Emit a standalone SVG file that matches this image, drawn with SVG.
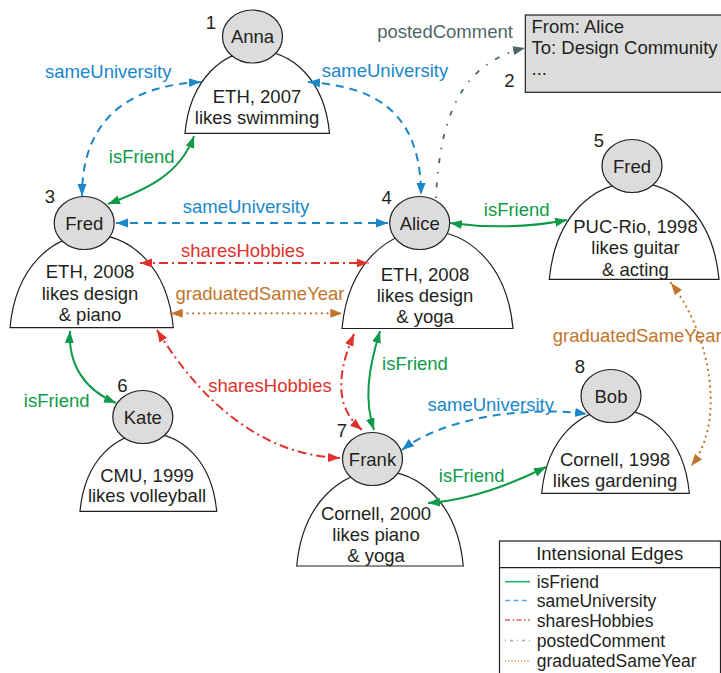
<svg xmlns="http://www.w3.org/2000/svg" width="721" height="673" viewBox="0 0 721 673">
  <style>
    text { font-family: "Liberation Sans", Arial, sans-serif; font-size: 18.5px; fill: #231f20; }
    .c { text-anchor: middle; }
    .head { fill: #dcdcdc; stroke: #231f20; stroke-width: 1.2; }
    .dome { fill: #ffffff; stroke: #231f20; stroke-width: 1.2; }
    .e { fill: none; stroke-width: 2; }
    .friend { stroke: #0e9a48; }
    .uni { stroke: #1a87c9; stroke-dasharray: 8 6; }
    .hob { stroke: #e1312b; stroke-dasharray: 9 4 2 4; }
    .grad { stroke: #c1742a; stroke-dasharray: 0.1 5.5; stroke-linecap: round; stroke-width: 2.2; }
    .post { stroke: #4e6766; stroke-dasharray: 1.5 9 5 9; stroke-width: 1.8; }
    .tf { fill: #0e9a48; }
    .tu { fill: #1a87c9; }
    .th { fill: #e1312b; }
    .tg { fill: #c1742a; }
    .tp { fill: #4e6766; }
    .lg { fill: none; stroke-width: 1.6; }
    .lt { font-size: 17.5px; }
  </style>
  <defs>
    <marker id="aF" viewBox="0 0 12 10" refX="12" refY="5" markerWidth="12" markerHeight="10" markerUnits="userSpaceOnUse" orient="auto-start-reverse"><path d="M0,0.5 L12,5 L0,9.5 Z" fill="#0e9a48"/></marker>
    <marker id="aU" viewBox="0 0 12 10" refX="12" refY="5" markerWidth="12" markerHeight="10" markerUnits="userSpaceOnUse" orient="auto-start-reverse"><path d="M0,0.5 L12,5 L0,9.5 Z" fill="#1a87c9"/></marker>
    <marker id="aH" viewBox="0 0 12 10" refX="12" refY="5" markerWidth="12" markerHeight="10" markerUnits="userSpaceOnUse" orient="auto-start-reverse"><path d="M0,0.5 L12,5 L0,9.5 Z" fill="#e1312b"/></marker>
    <marker id="aG" viewBox="0 0 12 10" refX="12" refY="5" markerWidth="12" markerHeight="10" markerUnits="userSpaceOnUse" orient="auto-start-reverse"><path d="M0,0.5 L12,5 L0,9.5 Z" fill="#c1742a"/></marker>
    <marker id="aP" viewBox="0 0 12 10" refX="12" refY="5" markerWidth="12" markerHeight="10" markerUnits="userSpaceOnUse" orient="auto-start-reverse"><path d="M0,0.5 L12,5 L0,9.5 Z" fill="#4e6766"/></marker>
  </defs>

  <!-- people: dome with profile text, grey head with name -->
  <g id="anna">
    <path class="dome" d="M185,133.3 C195.1,23.5 319.4,23.5 329.5,133.3 Z"/>
    <ellipse class="head" cx="252.5" cy="36.5" rx="30" ry="26.5"/>
    <text class="c" x="252.5" y="43">Anna</text>
    <text x="211" y="28.5" class="c">1</text>
    <text class="c" x="257" y="103">ETH, 2007</text>
    <text class="c" x="257" y="124">likes swimming</text>
  </g>
  <g id="fred3">
    <path class="dome" d="M10,327.7 C21.4,203.6 161.9,203.6 173.3,327.7 Z"/>
    <ellipse class="head" cx="84.2" cy="223" rx="30" ry="26.5"/>
    <text class="c" x="84.2" y="229.5">Fred</text>
    <text x="50" y="203" class="c">3</text>
    <text class="c" x="90" y="278">ETH, 2008</text>
    <text class="c" x="90" y="299.5">likes design</text>
    <text class="c" x="90" y="320.5">&amp; piano</text>
  </g>
  <g id="alice">
    <path class="dome" d="M342,328.5 C354,198.5 501,198.5 513,328.5 Z"/>
    <ellipse class="head" cx="419.7" cy="223" rx="30" ry="26.5"/>
    <text class="c" x="419.7" y="229.5">Alice</text>
    <text x="386.7" y="204" class="c">4</text>
    <text class="c" x="425" y="280.5">ETH, 2008</text>
    <text class="c" x="425" y="302">likes design</text>
    <text class="c" x="425" y="323">&amp; yoga</text>
  </g>
  <g id="fred5">
    <path class="dome" d="M549.3,279.3 C561.2,150.3 707.1,150.3 719,279.3 Z"/>
    <ellipse class="head" cx="632" cy="166" rx="30" ry="26.5"/>
    <text class="c" x="632" y="172.5">Fred</text>
    <text x="599" y="146.5" class="c">5</text>
    <text class="c" x="635.5" y="232.5">PUC-Rio, 1998</text>
    <text class="c" x="635.5" y="254">likes guitar</text>
    <text class="c" x="635.5" y="275.5">&amp; acting</text>
  </g>
  <g id="kate">
    <path class="dome" d="M80,511.3 C89.6,407.4 207.1,407.4 216.7,511.3 Z"/>
    <ellipse class="head" cx="142.8" cy="417" rx="30" ry="26.5"/>
    <text class="c" x="142.8" y="423.5">Kate</text>
    <text x="122.3" y="391.5" class="c">6</text>
    <text class="c" x="147" y="481.5">CMU, 1999</text>
    <text class="c" x="147" y="502">likes volleyball</text>
  </g>
  <g id="frank">
    <path class="dome" d="M296.7,566 C308.4,439.4 451.6,439.4 463.3,566 Z"/>
    <ellipse class="head" cx="372.5" cy="459" rx="30" ry="26.5"/>
    <text class="c" x="372.5" y="465.5">Frank</text>
    <text x="342" y="436.5" class="c">7</text>
    <text class="c" x="376" y="520">Cornell, 2000</text>
    <text class="c" x="376" y="541">likes piano</text>
    <text class="c" x="376" y="562">&amp; yoga</text>
  </g>
  <g id="bob">
    <path class="dome" d="M541.7,493.3 C552,381.1 679,381.1 689.3,493.3 Z"/>
    <ellipse class="head" cx="611" cy="396" rx="30" ry="26.5"/>
    <text class="c" x="611" y="402.5">Bob</text>
    <text x="580" y="373" class="c">8</text>
    <text class="c" x="615" y="466">Cornell, 1998</text>
    <text class="c" x="615" y="486.5">likes gardening</text>
  </g>

  <!-- posted comment -->
  <g id="comment">
    <rect x="525.3" y="15" width="205" height="77.3" fill="#dcdcdc" stroke="#231f20" stroke-width="1.2"/>
    <text x="531.5" y="33">From: Alice</text>
    <text x="531.5" y="54">To: Design Community</text>
    <text x="531.5" y="75">...</text>
    <text x="509.3" y="86.5" class="c">2</text>
  </g>

  <!-- edges -->
  <g id="connectors">
    <path class="e uni" d="M201,82 C140,85 82,110 82,196" marker-start="url(#aU)" marker-end="url(#aU)"/>
    <path class="e uni" d="M308,82 C360,86 421,100 421,195" marker-start="url(#aU)" marker-end="url(#aU)"/>
    <path class="e friend" d="M194,136 C180,175 145,190 108,204" marker-start="url(#aF)" marker-end="url(#aF)"/>
    <path class="e uni" d="M116,223 L388,223" marker-start="url(#aU)" marker-end="url(#aU)"/>
    <path class="e hob" d="M140,263 L368.5,263" marker-start="url(#aH)" marker-end="url(#aH)"/>
    <path class="e grad" d="M170.7,313.3 L342.3,313.3" marker-start="url(#aG)" marker-end="url(#aG)"/>
    <path class="e friend" d="M450,223 Q510,231 567,220" marker-start="url(#aF)" marker-end="url(#aF)"/>
    <path class="e post" d="M436,198 C440,110 465,62 525,48" marker-end="url(#aP)"/>
    <path class="e grad" d="M671,283 C708,330 728,420 691,466" marker-start="url(#aG)" marker-end="url(#aG)"/>
    <path class="e friend" d="M380,331 C368,370 364,400 374,430" marker-start="url(#aF)" marker-end="url(#aF)"/>
    <path class="e hob" d="M354,334 C334,380 338,410 362,430" marker-start="url(#aH)" marker-end="url(#aH)"/>
    <path class="e hob" d="M157,330 C200,400 260,455 340,458" marker-start="url(#aH)" marker-end="url(#aH)"/>
    <path class="e friend" d="M70,331 C68,365 85,390 116,403" marker-start="url(#aF)" marker-end="url(#aF)"/>
    <path class="e uni" d="M402,450 C440,420 520,405 587,414" marker-start="url(#aU)" marker-end="url(#aU)"/>
    <path class="e friend" d="M428,503 C470,500 510,485 546,467" marker-start="url(#aF)" marker-end="url(#aF)"/>
  </g>

  <!-- edge labels -->
  <g id="edge-labels">
    <text class="c tu" x="108.3" y="78">sameUniversity</text>
    <text class="c tu" x="385" y="76.5">sameUniversity</text>
    <text class="c tf" x="141.7" y="162.5">isFriend</text>
    <text class="c tu" x="246" y="213">sameUniversity</text>
    <text class="c th" x="242.7" y="256.5">sharesHobbies</text>
    <text class="c tg" x="260" y="300">graduatedSameYear</text>
    <text class="c tf" x="516.7" y="216">isFriend</text>
    <text class="c tp" x="445" y="38">postedComment</text>
    <text class="tg" x="552.7" y="341.5">graduatedSameYear</text>
    <text class="c tf" x="415" y="370">isFriend</text>
    <text class="c th" x="270" y="391.5">sharesHobbies</text>
    <text class="c tf" x="56.7" y="406.5">isFriend</text>
    <text class="c tu" x="490.7" y="410.5">sameUniversity</text>
    <text class="c tf" x="471.7" y="481.5">isFriend</text>
  </g>

  <!-- legend -->
  <g id="legend">
    <rect x="499.5" y="541" width="221" height="140" fill="#ffffff" stroke="#231f20" stroke-width="1.2"/>
    <line x1="499.5" y1="567.7" x2="720.5" y2="567.7" stroke="#231f20" stroke-width="1.2"/>
    <text class="c" x="609.7" y="560">Intensional Edges</text>
    <line class="lg" x1="505" y1="581.7" x2="530" y2="581.7" stroke="#2bb061"/>
    <line class="lg" x1="505" y1="600.5" x2="530" y2="600.5" stroke="#55aee6" stroke-dasharray="5 3.5"/>
    <line class="lg" x1="505" y1="620" x2="530" y2="620" stroke="#e85a5a" stroke-dasharray="5 2.5 1.5 2.5"/>
    <line class="lg" x1="505" y1="640.5" x2="530" y2="640.5" stroke="#9aa8a8" stroke-dasharray="1 4 3 4"/>
    <line class="lg" x1="505" y1="661" x2="530" y2="661" stroke="#e09040" stroke-dasharray="1.2 2"/>
    <text class="lt" x="536.7" y="587.5">isFriend</text>
    <text class="lt" x="536.7" y="607.25">sameUniversity</text>
    <text class="lt" x="536.7" y="627">sharesHobbies</text>
    <text class="lt" x="536.7" y="646.75">postedComment</text>
    <text class="lt" x="536.7" y="666.5">graduatedSameYear</text>
  </g>
</svg>
